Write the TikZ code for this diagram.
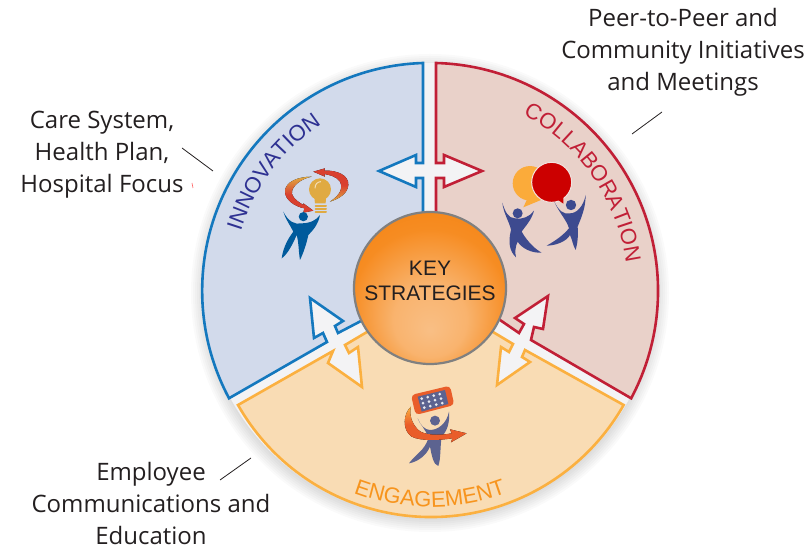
\documentclass[tikz,border=0pt]{standalone}
\usepackage{fontspec}
\setmainfont{Open Sans}
\newfontfamily\arialfam{Liberation Sans}
\usetikzlibrary{positioning}
\usetikzlibrary{calc}
\usetikzlibrary{decorations.text}
\definecolor{innovline}{HTML}{1478BE}
\definecolor{innovfill}{HTML}{D2DAEB}
\definecolor{innovtext}{HTML}{2E3192}
\definecolor{collabline}{HTML}{C11F36}
\definecolor{collabfill}{HTML}{E9D1C9}
\definecolor{engageline}{HTML}{FBB040}
\definecolor{engagefill}{HTML}{F9DCB4}
\definecolor{engagetext}{HTML}{F7941D}
\definecolor{gapgray}{HTML}{F3F3F5}
\definecolor{labeltext}{HTML}{231F20}
\definecolor{bulbgold}{HTML}{E0AA42}
\definecolor{swoopred}{HTML}{D9402F}
\definecolor{manblue}{HTML}{005A9C}
\definecolor{mannavy}{HTML}{3D4A8F}
\definecolor{manslate}{HTML}{5C6390}
\definecolor{tabletred}{HTML}{E95D2A}
\pgfdeclareradialshading{hubshade}{\pgfpoint{0bp}{-14bp}}{color(0bp)=(orange!45!white!90!brown);color(12bp)=(orange!55!white!90!brown);color(26bp)=(orange!85!brown!90!white);color(40bp)=(orange!80!brown);color(50bp)=(orange!80!brown)}
\newcommand{\sectorfont}{\arialfam\fontsize{22}{22}\selectfont}
\begin{document}
\begin{tikzpicture}[x=1pt,y=1pt,>=stealth,
	sectorline/.style={line width=2.6pt,miter limit=10},
	sidelabel/.style={align=center,text=labeltext,font=\fontsize{24}{32}\selectfont},
	leader/.style={draw=labeltext,line width=.8pt},
	zoomed/.style={x=.3333pt,y=-.3333pt},
	sectortext/.style={decorate,decoration={text along path,text align=center,text color=#1}},
	]
	\useasboundingbox (0,0) rectangle (811,549);
	\coordinate (hubc) at (430,259);

	% Disc behind the sectors
	% -----------------------
	\foreach \r in {1,...,7}
		\fill[black,opacity=.018] ($(hubc)+(0,-3)$) circle ({225+2*\r});
	\fill[gapgray] (hubc) circle (227);

	% Sectors
	% -------
	\filldraw[sectorline,draw=innovline,fill=innovfill]
		(423,330) -- (423,371) -- (416,371) -- (416,362) -- (379,378) -- (416,394) -- (416,386) -- (423,386)
		-- (423,486) arc (91.8:208.1:228)
		-- (327,207) -- (323,216) -- (314,211) -- (310,251) -- (343,228) -- (335,223) -- (338,216) -- (361,228) -- (423,259);
	\filldraw[sectorline,draw=collabline,fill=collabfill]
		(436,330) -- (436,371) -- (444,371) -- (444,362) -- (482,378) -- (444,394) -- (444,386) -- (436,386)
		-- (436,486) arc (88.5:-28.1:228)
		-- (531,209) -- (534,222) -- (543,220) -- (548,253) -- (515,231) -- (524,225) -- (519,216) -- (500,229) -- (436,259);
	\filldraw[sectorline,draw=engageline,fill=engagefill]
		(430,259) -- (367,217) -- (345,204) -- (349,196) -- (358,202) -- (362,162) -- (328,186) -- (333,198)
		-- (238,144) arc (209.7:330.3:222)
		-- (525,199) -- (522,192) -- (530,187) -- (497,164) -- (501,202) -- (509,197) -- (513,205) -- (493,217) -- cycle;

	% Sector names
	% ------------
	\path[sectortext=innovtext,decoration={text={|\sectorfont|INNOVATION}}]
		($(hubc)+(172:198)$) arc (172:114:198);
	\path[sectortext=collabline,decoration={text={|\sectorfont|COLLABORATION}}]
		($(hubc)+(70:198)$) arc (70:0:198);
	\path[sectortext=engagetext,decoration={text={|\sectorfont|ENGAGEMENT}}]
		($(hubc)+(240:217)$) arc (240:300:217);

	% Hub
	% ---
	\node[circle,draw=gray,line width=2.2pt,shading=hubshade,minimum size=152pt,inner sep=0pt] (hub) at (430,261) {};
	\node[align=center,text=labeltext,font=\arialfam\fontsize{21}{25}\selectfont] (hubtext) at (430,268) {KEY\\STRATEGIES};

	% Innovation figure
	% -----------------
	\begin{scope}[shift={(275,389)},zoomed]
		\fill[top color=bulbgold,bottom color=swoopred,middle color=swoopred] (110,50) .. controls (70,50) and (30,65) .. (30,95) .. controls (30,120) and (60,140) .. (88,145) -- (85,158) -- (115,152) -- (85,130) -- (85,135) .. controls (60,120) and (45,105) .. (52,90) .. controls (60,70) and (85,55) .. (110,50) -- cycle;
		\fill[bottom color=bulbgold,top color=swoopred,middle color=swoopred] (165,125) .. controls (195,105) and (205,85) .. (195,65) .. controls (185,50) and (165,45) .. (148,42) -- (150,50) -- (115,35) -- (150,25) -- (148,32) .. controls (185,30) and (222,45) .. (220,75) .. controls (218,100) and (195,115) .. (165,125) -- cycle;
		\fill[bulbgold] (135,88) circle (11pt);
		\fill[bulbgold] (112,100) .. controls (122,115) and (118,125) .. (120,130) -- (152,130) .. controls (153,120) and (150,115) .. (160,100) -- cycle;
		\draw[white!60!bulbgold,line width=1pt] (120,85) .. controls (120,72) and (128,65) .. (138,65);
		\foreach \s in {137,147,156}
			\draw[bulbgold,line width=2pt,line cap=round] (122,\s) -- (153,\s);
		\fill[manblue] (85,170) circle (4.6pt);
		\fill[manblue] (25,155) .. controls (40,185) and (60,195) .. (80,190) .. controls (105,190) and (125,180) .. (135,165) .. controls (130,195) and (110,215) .. (100,225) .. controls (95,250) and (85,280) .. (75,300) .. controls (70,270) and (72,250) .. (65,225) .. controls (50,260) and (35,285) .. (20,295) .. controls (25,260) and (40,235) .. (55,215) .. controls (45,195) and (30,175) .. (25,155) -- cycle;
	\end{scope}

	% Collaboration figure
	% --------------------
	\begin{scope}[shift={(495,394)},zoomed]
		\fill[engageline!90!orange] (105,85) circle (17.3pt);
		\fill[engageline!90!orange] (100,125) -- (85,157) -- (150,130) -- cycle;
		\filldraw[fill=red!75!black!80!red,draw=collabfill!60!white,line width=1pt] (170,82) circle (20pt);
		\fill[red!75!black!80!red] (175,125) -- (205,146) -- (205,120) -- cycle;
		\fill[mannavy] (68,175) circle (5pt);
		\fill[mannavy] (22,143) .. controls (30,170) and (40,190) .. (60,190) .. controls (80,195) and (105,185) .. (117,167) .. controls (110,195) and (90,215) .. (80,230) .. controls (100,265) and (125,285) .. (140,293) .. controls (110,295) and (80,280) .. (68,260) .. controls (60,275) and (60,295) .. (63,307) .. controls (45,290) and (38,265) .. (48,225) .. controls (45,205) and (25,175) .. (22,143) -- cycle;
		\fill[mannavy] (228,150) circle (5.2pt);
		\fill[mannavy] (178,140) .. controls (190,165) and (205,180) .. (225,175) .. controls (245,175) and (265,155) .. (272,120) .. controls (272,160) and (258,190) .. (248,215) .. controls (250,240) and (248,265) .. (242,285) .. controls (235,275) and (232,255) .. (225,240) .. controls (215,260) and (180,272) .. (155,272) .. controls (185,255) and (205,240) .. (222,220) .. controls (215,195) and (190,170) .. (178,140) -- cycle;
	\end{scope}

	% Engagement figure
	% -----------------
	\begin{scope}[shift={(395,169)},zoomed]
		\fill[manslate] (120,122) circle (5pt);
		\fill[manslate] (68,115) .. controls (75,135) and (90,150) .. (105,150) .. controls (130,150) and (155,130) .. (162,95) .. controls (165,130) and (155,155) .. (140,170) .. controls (135,200) and (138,235) .. (130,258) .. controls (115,255) and (110,225) .. (105,200) .. controls (95,225) and (70,245) .. (42,250) .. controls (60,225) and (90,210) .. (100,175) .. controls (95,150) and (75,135) .. (68,115) -- cycle;
		\fill[top color=engageline,bottom color=tabletred,middle color=tabletred] (48,80) .. controls (25,100) and (20,150) .. (50,170) .. controls (80,185) and (140,180) .. (172,175) -- (168,187) -- (215,160) -- (165,148) -- (170,160) .. controls (130,168) and (85,165) .. (70,150) .. controls (50,130) and (42,105) .. (48,80) -- cycle;
		\fill[tabletred,rounded corners=4pt] (48,45) -- (165,17) -- (178,75) -- (62,105) -- cycle;
		\fill[manslate] (68,50) -- (150,30) -- (160,72) -- (80,95) -- cycle;
		\foreach \col in {0,1,2,3}
			\foreach \row in {0,1,2}
				\fill[white!85!manslate] ($(80,56)+\col*(18,-4.5)+\row*(4,13.5)$) circle (1.5pt);
	\end{scope}

	% Labels and leader lines
	% -----------------------
	\node[sidelabel] (peer) at (683,497) {Peer-to-Peer and\\Community Initiatives\\and Meetings};
	\node[sidelabel] (care) at (102,394) {Care System,\\Health Plan,\\Hospital Focus};
	\node[sidelabel] (staff) at (151,46) {Employee\\Communications and\\Education};

	\coordinate (peerstart) at (662,437);
	\coordinate (peerend) at (632,415);
	\coordinate (carestart) at (182,401);
	\coordinate (careend) at (213,378);
	\coordinate (staffstart) at (220,69);
	\coordinate (staffend) at (251,91);
	\draw[leader] (peerstart) -- (peerend);
	\draw[leader] (carestart) -- (careend);
	\draw[leader] (staffstart) -- (staffend);

	\coordinate (tickstart) at (192,366);
	\coordinate (tickend) at (193,361);
	\draw[red!60!white,line width=.6pt] (tickstart) -- (tickend);

\end{tikzpicture}
\end{document}
